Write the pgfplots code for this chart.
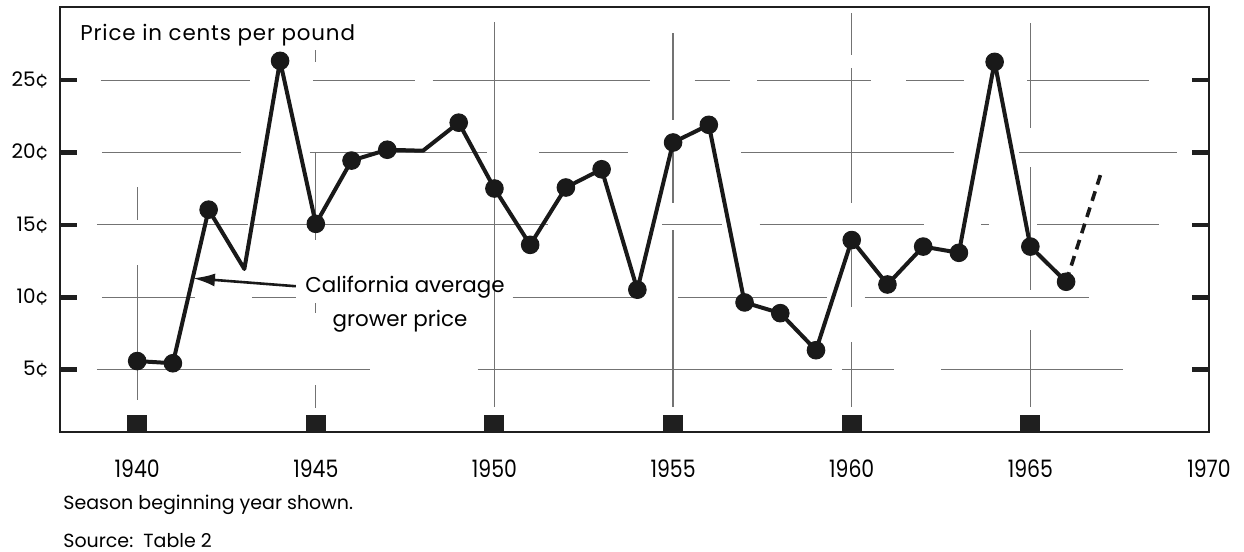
\documentclass[border=0pt]{standalone}
\usepackage{pgfplots}
\pgfplotsset{compat=1.18}
\usepackage{fontspec}
\setmainfont{Poppins}
\newfontfamily\tickfont[FakeStretch=0.85]{Poppins}
\newfontfamily\spacedfont[LetterSpace=4]{Poppins}
\usetikzlibrary{arrows.meta}
\tikzset{gl/.style={line width=0.6pt, black!55}}
\begin{document}
\begin{tikzpicture}
\begin{axis}[name=ax, scale only axis, width=574.5pt, height=212.5pt,
 xmin=1937.84, xmax=1970, ymin=0.69, ymax=30.05,
 axis line style={line width=1.4pt, black!88},
 xtick={1940,1945,...,1965}, xticklabels={1940,1945,1950,1955,1960,1965},
 extra x ticks={1970}, extra x tick labels={1970}, extra x tick style={major tick length=0pt},
 xtick pos=left, xticklabel pos=left,
 ytick pos=both, yticklabel pos=left,
 tick align=inside,
 ytick={5,10,15,20,25}, yticklabels={5¢,10¢,15¢,20¢,25¢},
 major tick length=8.5pt,
 xtick style={line width=10pt, black!88},
 ytick style={line width=2.3pt, black!88},
 xticklabel style={font=\tickfont\fontsize{12}{14}\selectfont, yshift=-10.5pt},
 yticklabel style={font=\fontsize{10}{12}\selectfont, xshift=-2pt},
 clip=false,
]
% broken horizontal grid lines
\draw[gl] (axis cs:1938.98,25)--(axis cs:1943.15,25) (axis cs:1944.92,25)--(axis cs:1947.78,25) (axis cs:1948.27,25)--(axis cs:1954.34,25) (axis cs:1955.60,25)--(axis cs:1956.58,25) (axis cs:1957.36,25)--(axis cs:1960.55,25) (axis cs:1961.53,25)--(axis cs:1963.15,25) (axis cs:1964.91,25)--(axis cs:1968.33,25);
\draw[gl] (axis cs:1939.01,20)--(axis cs:1942.90,20) (axis cs:1944.83,20)--(axis cs:1949.78,20) (axis cs:1951.26,20)--(axis cs:1953.73,20) (axis cs:1956.91,20)--(axis cs:1962.87,20) (axis cs:1964.69,20)--(axis cs:1969.11,20);
\draw[gl] (axis cs:1938.87,15)--(axis cs:1943.10,15) (axis cs:1943.21,15)--(axis cs:1951.49,15) (axis cs:1954.70,15)--(axis cs:1956.38,15) (axis cs:1957.42,15)--(axis cs:1962.03,15) (axis cs:1963.63,15)--(axis cs:1963.85,15) (axis cs:1965.19,15)--(axis cs:1968.61,15);
\draw[gl] (axis cs:1939.01,10)--(axis cs:1941.61,10) (axis cs:1943.21,10)--(axis cs:1944.44,10) (axis cs:1950.51,10)--(axis cs:1953.87,10) (axis cs:1955.13,10)--(axis cs:1959.32,10) (axis cs:1960.36,10)--(axis cs:1966.65,10);
\draw[gl] (axis cs:1938.87,5)--(axis cs:1946.51,5) (axis cs:1949.53,5)--(axis cs:1959.46,5) (axis cs:1959.74,5)--(axis cs:1961.19,5) (axis cs:1962.51,5)--(axis cs:1967.60,5);
% broken vertical grid lines
\draw[gl] (axis cs:1940,17.61)--(axis cs:1940,15.32) (axis cs:1940,12.22)--(axis cs:1940,2.88);
\draw[gl] (axis cs:1945,27.07)--(axis cs:1945,26.24) (axis cs:1945,20.03)--(axis cs:1945,13.94) (axis cs:1945,9.58)--(axis cs:1945,8.89) (axis cs:1945,3.91)--(axis cs:1945,2.33);
\draw[gl] (axis cs:1950,29.01)--(axis cs:1950,2.40);
\draw[gl] (axis cs:1955,28.25)--(axis cs:1955,22.24) (axis cs:1955,20.65)--(axis cs:1955,16.50) (axis cs:1955,14.63)--(axis cs:1955,2.40);
\draw[gl] (axis cs:1960,29.63)--(axis cs:1960,26.73) (axis cs:1960,25.83)--(axis cs:1960,16.50) (axis cs:1960,14.42)--(axis cs:1960,9.31) (axis cs:1960,6.89)--(axis cs:1960,2.40);
\draw[gl] (axis cs:1965,28.94)--(axis cs:1965,21.69) (axis cs:1965,18.99)--(axis cs:1965,10.48) (axis cs:1965,7.72)--(axis cs:1965,2.40);
% data
\addplot[line width=2pt, black!90, line join=round, mark=*, mark size=4.4pt,
  mark options={line width=0.5pt, fill=black!90},
  mark indices={1,2,3,5,6,7,8,10,11,12,13,14,15,16,17,18,19,20,21,22,23,24,25,26,27}]
 coordinates {
 (1940,5.59) (1941,5.44) (1942,16.05) (1943,11.95) (1944,26.33) (1945,15.07)
 (1946,19.44) (1947,20.19) (1948,20.12) (1949,22.06) (1950,17.51) (1951,13.62)
 (1952,17.58) (1953,18.84) (1954,10.52) (1955,20.69) (1956,21.91) (1957,9.64)
 (1958,8.90) (1959,6.34) (1960,13.95) (1961,10.88) (1962,13.50) (1963,13.07)
 (1964,26.26) (1965,13.50) (1966,11.07)
 };
\addplot[line width=1.8pt, black!90, dash pattern=on 5pt off 3.5pt] coordinates {(1966,11.07) (1967,18.74)};
% annotation
\draw[line width=1.3pt, black!90, -{Latex[length=11pt,width=6.5pt]}] (axis cs:1944.44,10.76) -- (axis cs:1941.56,11.31);
\node[anchor=base, inner sep=0pt, font=\fontsize{10.7}{12}\selectfont] at (rel axis cs:0.3003,0.3271) {California average};
\node[anchor=base, inner sep=0pt, font=\fontsize{10.7}{12}\selectfont] at (rel axis cs:0.2959,0.2471) {grower price};
\node[anchor=base west, inner sep=0pt, font=\spacedfont\fontsize{10.7}{12}\selectfont] at (rel axis cs:0.0174,0.922) {Price in cents per pound};
\node[anchor=base west, inner sep=0pt, font=\fontsize{9.5}{11}\selectfont] at (rel axis cs:0.0026,-0.1835) {Season beginning year shown.};
\node[anchor=base west, inner sep=0pt, font=\fontsize{9.5}{11}\selectfont] at (rel axis cs:0.0026,-0.2706) {Source:\ \ Table 2};
\end{axis}
\path ([shift={(-30pt,-60pt)}]ax.south west) rectangle ([shift={(17.5pt,3.5pt)}]ax.north east);
\end{tikzpicture}
\end{document}
